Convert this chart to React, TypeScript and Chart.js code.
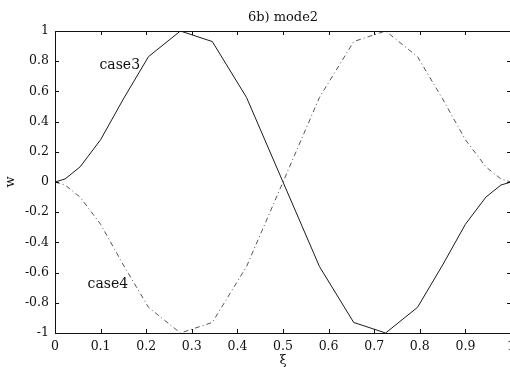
import React, { useEffect, useRef } from "react";
import { Chart, registerables } from "chart.js";

Chart.register(...registerables);

const xi = [0, 0.022, 0.055, 0.1, 0.15, 0.205, 0.275, 0.345, 0.42, 0.5, 0.58, 0.655, 0.725, 0.795, 0.85, 0.9, 0.945, 0.978, 1];
const case3 = [0, 0.02, 0.1, 0.28, 0.55, 0.83, 1.0, 0.93, 0.56, 0, -0.56, -0.93, -1.0, -0.83, -0.55, -0.28, -0.1, -0.02, 0];
const case4 = [0, -0.02, -0.1, -0.28, -0.55, -0.83, -1.0, -0.93, -0.56, 0, 0.56, 0.93, 1.0, 0.83, 0.55, 0.28, 0.1, 0.02, 0];
const xTicks = [0, 0.1, 0.2, 0.3, 0.4, 0.5, 0.6, 0.7, 0.8, 0.9, 1];
const yTicks = [-1, -0.8, -0.6, -0.4, -0.2, 0, 0.2, 0.4, 0.6, 0.8, 1];
const titleText = "6b) mode2";
const xLabel = "ξ";
const yLabel = "w";
const seriesLabels = [
  { text: "case3", x: 0.142, y: 0.77 },
  { text: "case4", x: 0.116, y: -0.675 },
];

const FONT = "'DejaVu Serif', 'Liberation Serif', serif";

const fmt = (v: number) => {
  const n = Number(Number(v).toFixed(1));
  return n.toString();
};

const decorPlugin = {
  id: "decor",
  afterDraw(chart: any) {
    const ctx = chart.ctx as CanvasRenderingContext2D;
    const { left, right, top, bottom } = chart.chartArea;
    const xs = chart.scales.x;
    const ys = chart.scales.y;
    ctx.save();
    ctx.strokeStyle = "#111";
    ctx.lineWidth = 1;
    ctx.beginPath();
    ctx.moveTo(left + 0.5, top + 0.5);
    ctx.lineTo(right + 0.5, top + 0.5);
    ctx.lineTo(right + 0.5, bottom + 0.5);
    ctx.lineTo(left + 0.5, bottom + 0.5);
    ctx.closePath();
    ctx.stroke();
    const tl = 4;
    ctx.beginPath();
    xTicks.forEach((v) => {
      const px = Math.round(xs.getPixelForValue(v)) + 0.5;
      ctx.moveTo(px, bottom);
      ctx.lineTo(px, bottom - tl);
      ctx.moveTo(px, top);
      ctx.lineTo(px, top + tl);
    });
    yTicks.forEach((v) => {
      const py = Math.round(ys.getPixelForValue(v)) + 0.5;
      ctx.moveTo(left, py);
      ctx.lineTo(left + tl, py);
      ctx.moveTo(right, py);
      ctx.lineTo(right - tl, py);
    });
    ctx.stroke();

    ctx.fillStyle = "#111";
    ctx.textAlign = "center";
    ctx.textBaseline = "middle";
    ctx.font = `13px ${FONT}`;
    ctx.fillText(titleText, (left + right) / 2, 18);
    ctx.fillText(xLabel, (left + right) / 2, 361);
    ctx.font = `14px ${FONT}`;
    seriesLabels.forEach((l) => {
      ctx.fillText(l.text, xs.getPixelForValue(l.x), ys.getPixelForValue(l.y));
    });
    ctx.font = `13px ${FONT}`;
    ctx.save();
    ctx.translate(11, (top + bottom) / 2);
    ctx.rotate(-Math.PI / 2);
    ctx.fillText(yLabel, 0, 0);
    ctx.restore();
    ctx.restore();
  },
};

export default function App() {
  const ref = useRef<HTMLCanvasElement | null>(null);
  useEffect(() => {
    document.body.style.margin = "0";
    const canvas = ref.current;
    if (!canvas) return;
    const chart = new Chart(canvas, {
      type: "line",
      data: {
        datasets: [
          {
            label: "case3",
            data: xi.map((x, i) => ({ x, y: case3[i] })),
            borderColor: "#1a1a1a",
            borderWidth: 1,
            pointRadius: 0,
            tension: 0,
            fill: false,
          },
          {
            label: "case4",
            data: xi.map((x, i) => ({ x, y: case4[i] })),
            borderColor: "#555",
            borderWidth: 1,
            borderDash: [5, 3, 1, 3],
            pointRadius: 0,
            tension: 0,
            fill: false,
          },
        ],
      },
      options: {
        responsive: false,
        animation: false,
        devicePixelRatio: 1,
        layout: { padding: { top: 31, right: 1, left: 0, bottom: 0 } },
        plugins: {
          legend: { display: false },
          tooltip: { enabled: false },
          title: { display: false },
        },
        scales: {
          x: {
            type: "linear",
            min: 0,
            max: 1,
            afterFit: (s: any) => {
              s.height = 34;
              s.paddingLeft = 0;
              s.paddingRight = 0;
            },
            afterBuildTicks: (s: any) => {
              s.ticks = xTicks.map((v) => ({ value: v }));
            },
            grid: { display: false, drawTicks: false },
            border: { display: false },
            ticks: {
              padding: 6,
              color: "#111",
              font: { family: FONT, size: 12.5 },
              maxRotation: 0,
              autoSkip: false,
              callback: (v: any) => fmt(v),
            },
          },
          y: {
            type: "linear",
            min: -1,
            max: 1,
            afterFit: (s: any) => {
              s.width = 55;
              s.paddingTop = 0;
              s.paddingBottom = 0;
            },
            afterBuildTicks: (s: any) => {
              s.ticks = yTicks.map((v) => ({ value: v }));
            },
            grid: { display: false, drawTicks: false },
            border: { display: false },
            ticks: {
              padding: 6,
              color: "#111",
              font: { family: FONT, size: 12.5 },
              autoSkip: false,
              callback: (v: any) => fmt(v),
            },
          },
        },
      },
      plugins: [decorPlugin],
    });
    return () => chart.destroy();
  }, []);
  return (
    <div style={{ position: "absolute", left: 0, top: 0, width: 510, height: 367, overflow: "hidden", background: "#fff" }}>
      <canvas ref={ref} width={512} height={367} />
    </div>
  );
}
